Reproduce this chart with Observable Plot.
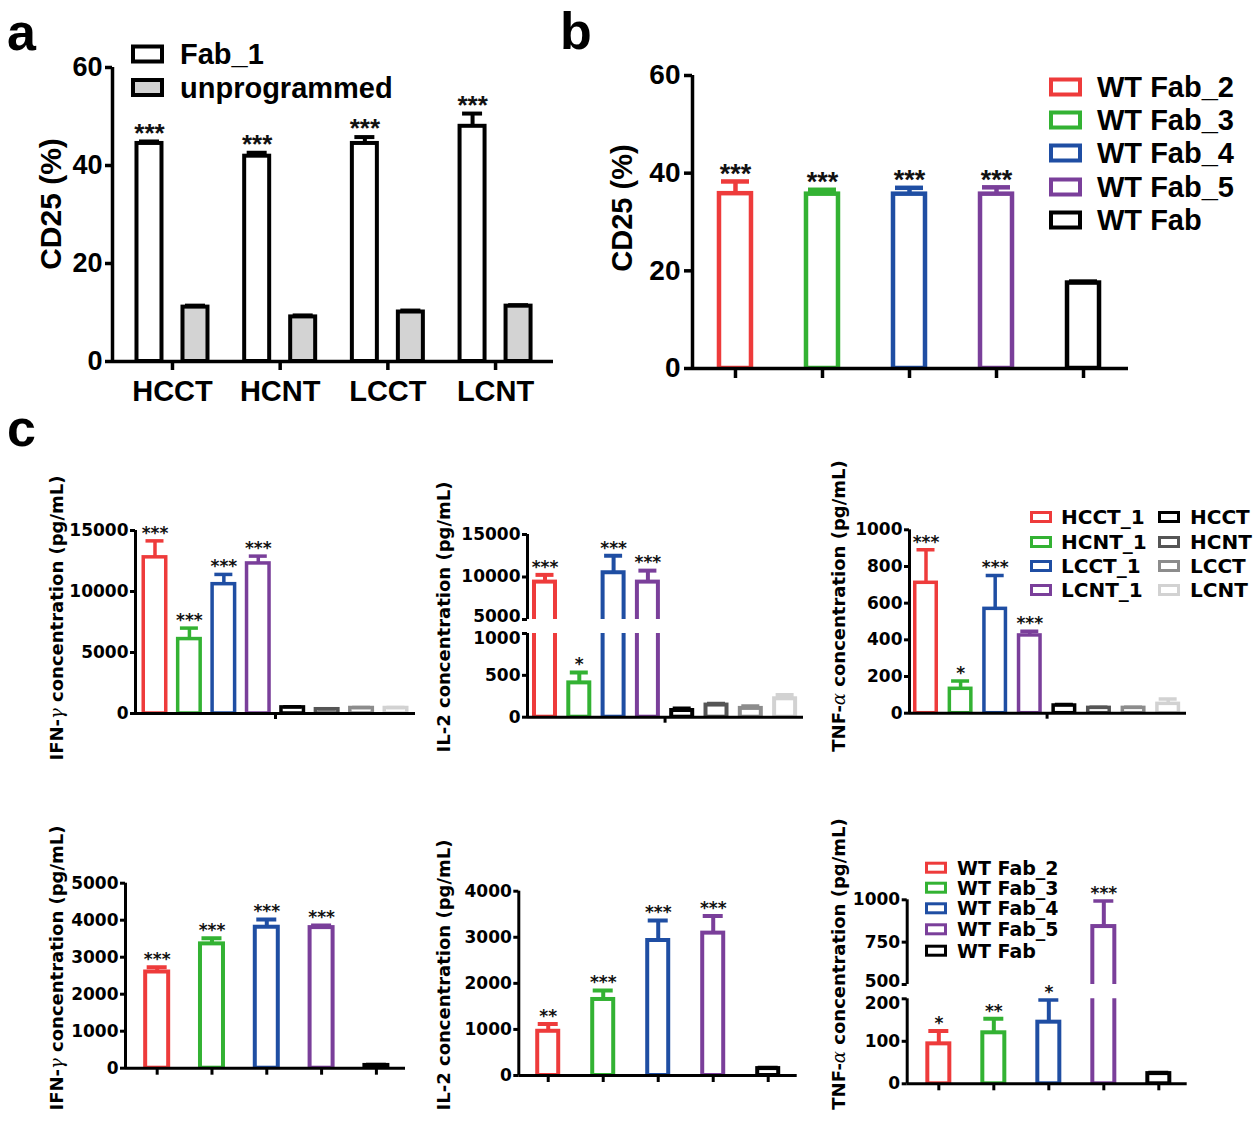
<!DOCTYPE html>
<html><head><meta charset="utf-8">
<script src="https://cdn.jsdelivr.net/npm/d3@7"></script>
<script src="https://cdn.jsdelivr.net/npm/@observablehq/plot@0.6"></script>
<style>
html,body{margin:0;padding:0;background:#fff;}
#root{position:relative;width:1260px;height:1125px;overflow:hidden;background:#fff;}
.panel{position:absolute;}
.panel svg{display:block;overflow:visible;}
#overlay{position:absolute;left:0;top:0;}
</style></head><body><div id="root"></div>
<script>
// ---------------- DATA ----------------
const aGroups = ["HCCT", "HCNT", "LCCT", "LCNT"];
const aSeries = ["Fab_1", "unprogrammed"];
const aFab1 = [44.5, 41.9, 44.5, 48.0];
const aFab1Err = [0.4, 0.7, 1.3, 2.6];
const aUnprog = [11.1, 9.1, 10.1, 11.3];
const aUnprogErr = [0.3, 0.3, 0.3, 0.2];
const aStars = ["***", "***", "***", "***"];
const aTicks = [0, 20, 40, 60];

const bLabels = ["WT Fab_2", "WT Fab_3", "WT Fab_4", "WT Fab_5", "WT Fab"];
const bValues = [35.8, 35.7, 35.7, 35.7, 17.5];
const bErr = [2.5, 0.9, 1.3, 1.4, 0.3];
const bStars = ["***", "***", "***", "***", ""];
const bTicks = [0, 20, 40, 60];

const cTopLabels = ["HCCT_1", "HCNT_1", "LCCT_1", "LCNT_1", "HCCT", "HCNT", "LCCT", "LCNT"];
const ifnTop = [12800, 6100, 10600, 12300, 500, 350, 450, 450];
const ifnTopErr = [1350, 900, 800, 600, 50, 30, 40, 40];
const ifnTopStars = ["***", "***", "***", "***", "", "", "", ""];
const ifnTopTicks = [0, 5000, 10000, 15000];
const il2Top = [9400, 410, 10500, 9400, 80, 145, 105, 220];
const il2TopErr = [850, 125, 2000, 1350, 25, 15, 25, 45];
const il2TopStars = ["***", "*", "***", "***", "", "", "", ""];
const il2TopTicksUpper = [5000, 10000, 15000];
const il2TopTicksLower = [0, 500, 1000];
const tnfTop = [711, 133, 569, 424, 42, 29, 29, 51];
const tnfTopErr = [180, 42, 182, 23, 5, 4, 4, 27];
const tnfTopStars = ["***", "*", "***", "***", "", "", "", ""];
const tnfTopTicks = [0, 200, 400, 600, 800, 1000];

const cBotLabels = ["WT Fab_2", "WT Fab_3", "WT Fab_4", "WT Fab_5", "WT Fab"];
const ifnBot = [2600, 3360, 3810, 3800, 75];
const ifnBotErr = [130, 150, 210, 55, 15];
const ifnBotStars = ["***", "***", "***", "***", ""];
const ifnBotTicks = [0, 1000, 2000, 3000, 4000, 5000];
const il2Bot = [960, 1650, 2930, 3090, 150];
const il2BotErr = [160, 195, 435, 370, 20];
const il2BotStars = ["**", "***", "***", "***", ""];
const il2BotTicks = [0, 1000, 2000, 3000, 4000];
const tnfBot = [94, 120, 145, 842, 24];
const tnfBotErr = [30, 33, 53, 153, 2];
const tnfBotStars = ["*", "**", "*", "***", ""];
const tnfBotTicksUpper = [500, 750, 1000];
const tnfBotTicksLower = [0, 100, 200];

const colTop = ["#ee3b3b", "#33b233", "#1f4ea3", "#7a3f9a", "#000000", "#555555", "#8c8c8c", "#d2d2d2"];
const colBot = ["#ee3b3b", "#33b233", "#1f4ea3", "#7a3f9a", "#000000"];
const aFills = ["#ffffff", "#d3d3d3"];

// ---------------- HELPERS ----------------
const fontAB = "'Liberation Sans', Arial, Helvetica, sans-serif";
const fontC = "'DejaVu Sans', Verdana, sans-serif";
const root = document.getElementById("root");

function mkBars(values, errs, stars, colors, fills) {
  return values.map((v, i) => ({pos: i, dxPx: 0, y: v, err: errs[i], star: stars[i], color: colors[i], fill: fills ? fills[i] : "#ffffff"}));
}

function barPanel(c) {
  const upp = (c.xDomain[1] - c.xDomain[0]) / (c.width - c.ml - c.mr);
  const hw = c.halfWpx * upp, ch = c.capHalfPx * upp;
  const [y0, y1] = c.yDomain;
  const data = c.bars.map(d => ({...d, x: d.pos + d.dxPx * upp}));
  const inFrame = data.filter(d => d.y >= y0 && d.y <= y1);
  const shifted = c.labelShift || {};
  const plainTicks = c.yTicks.filter(t => !(t in shifted));
  const marks = [
    Plot.rect(data, {x1: d => d.x - hw, x2: d => d.x + hw, y1: d => 0, y2: "y", fill: "fill", stroke: "color", strokeWidth: c.sw, clip: true}),
    Plot.ruleX(inFrame, {x: "x", y1: "y", y2: d => d.y + d.err, stroke: "color", strokeWidth: c.sw, clip: true}),
    Plot.ruleY(inFrame, {y: d => d.y + d.err, x1: d => d.x - ch, x2: d => d.x + ch, stroke: "color", strokeWidth: c.sw, clip: true}),
    Plot.text(inFrame.filter(d => d.star), {x: "x", y: d => d.y + d.err, text: "star", fontSize: c.starSize, fontWeight: "bold", fill: "#111", dy: -c.starGap + 0.26 * c.starSize}),
    Plot.ruleX([c.xDomain[0]], {y1: d => y0, y2: d => y1, strokeWidth: c.axisSw, stroke: "black"}),
    Plot.axisY({ticks: c.yTicks, tickFormat: d => (d in shifted) ? "" : String(d), tickSize: c.yTickSize, tickPadding: c.yTickPad, fontSize: c.fontSize, strokeWidth: c.axisSw, label: null})
  ];
  Object.keys(shifted).forEach(k => {
    marks.push(Plot.axisY({ticks: [+k], tickFormat: d => String(d), tickSize: 0, tickPadding: c.yTickPad + c.yTickSize, fontSize: c.fontSize, dy: shifted[k], label: null}));
  });
  if (c.xAxis) {
    marks.push(Plot.ruleY([y0], {x1: d => c.xDomain[0], x2: d => c.xDomain[1], strokeWidth: c.axisSw, stroke: "black"}));
    marks.push(Plot.axisX({ticks: c.xTicks, tickFormat: c.xTickFormat || (() => ""), tickSize: c.xTickSize, tickPadding: c.xTickPad || 3, fontSize: c.xFontSize || c.fontSize, strokeWidth: c.axisSw, label: null}));
  }
  const svg = Plot.plot({
    width: c.width, height: c.height,
    marginLeft: c.ml, marginRight: c.mr, marginTop: c.mt, marginBottom: c.mb,
    x: Object.assign({type: "linear", domain: c.xDomain}, c.xAxis ? {} : {axis: null}),
    y: {domain: c.yDomain},
    color: {type: "identity"},
    style: {fontFamily: c.font, fontWeight: "bold", color: "black", background: "transparent", overflow: "visible"},
    marks
  });
  const div = document.createElement("div");
  div.className = "panel";
  div.style.left = c.left + "px";
  div.style.top = c.top + "px";
  div.appendChild(svg);
  root.appendChild(div);
}

// ---------------- PANEL a ----------------
{
  const bars = [];
  aGroups.forEach((g, i) => {
    bars.push({pos: i, dxPx: -23, y: aFab1[i], err: aFab1Err[i], star: aStars[i], color: "#000", fill: aFills[0]});
    bars.push({pos: i, dxPx: 23, y: aUnprog[i], err: aUnprogErr[i], star: "", color: "#000", fill: aFills[1]});
  });
  barPanel({left: 0, top: 0, width: 560, height: 420, ml: 112, mr: 7, mt: 67, mb: 59,
    xDomain: [-0.557, 3.538], yDomain: [0, 60], yTicks: aTicks, bars,
    halfWpx: 12.5, capHalfPx: 10, sw: 4, axisSw: 3.5, font: fontAB, fontSize: 27,
    yTickSize: 7, yTickPad: 3, starSize: 26, starGap: 15,
    xAxis: true, xTicks: [0, 1, 2, 3], xTickFormat: i => aGroups[i], xTickSize: 9, xTickPad: 10, xFontSize: 29});
}
// ---------------- PANEL b ----------------
barPanel({left: 560, top: 0, width: 700, height: 420, ml: 132, mr: 132, mt: 75, mb: 52,
  xDomain: [-0.494, 4.517], yDomain: [0, 60], yTicks: bTicks,
  bars: mkBars(bValues, bErr, bStars, colBot),
  halfWpx: 16, capHalfPx: 14, sw: 4.5, axisSw: 3.5, font: fontAB, fontSize: 28,
  yTickSize: 8, yTickPad: 4, starSize: 27, starGap: 14,
  xAxis: true, xTicks: [0, 1, 2, 3, 4], xTickSize: 10});

// ---------------- PANEL c, top row ----------------
const cCommon = {sw: 3.5, axisSw: 3, font: fontC, fontSize: 17, yTickSize: 5, yTickPad: 2, starSize: 17, starGap: 12};
barPanel({...cCommon, left: 0, top: 440, width: 420, height: 330, ml: 135, mr: 5, mt: 90, mb: 57,
  xDomain: [-0.566, 7.566], yDomain: [0, 15000], yTicks: ifnTopTicks,
  bars: mkBars(ifnTop, ifnTopErr, ifnTopStars, colTop),
  halfWpx: 11.25, capHalfPx: 9, xAxis: true, xTicks: [3.5], xTickSize: 6});
// IL-2 broken axis: upper part and lower part
barPanel({...cCommon, sw: 4, left: 420, top: 440, width: 400, height: 179, ml: 107, mr: 17, mt: 94, mb: 0,
  xDomain: [-0.51, 7.536], yDomain: [5000, 15000], yTicks: il2TopTicksUpper, labelShift: {5000: -3},
  bars: mkBars(il2Top, il2TopErr, il2TopStars, colTop),
  halfWpx: 10.5, capHalfPx: 9, xAxis: false});
barPanel({...cCommon, sw: 4, left: 420, top: 625, width: 400, height: 145, ml: 107, mr: 17, mt: 8, mb: 53.3,
  xDomain: [-0.51, 7.536], yDomain: [0, 1000], yTicks: il2TopTicksLower, labelShift: {1000: 5},
  bars: mkBars(il2Top, il2TopErr, il2TopStars, colTop),
  halfWpx: 10.5, capHalfPx: 9, xAxis: true, xTicks: [3.5], xTickSize: 6});
barPanel({...cCommon, left: 810, top: 440, width: 450, height: 330, ml: 99, mr: 74, mt: 89.3, mb: 57.3,
  xDomain: [-0.477, 7.53], yDomain: [0, 1000], yTicks: tnfTopTicks,
  bars: mkBars(tnfTop, tnfTopErr, tnfTopStars, colTop),
  halfWpx: 10.75, capHalfPx: 9, xAxis: true, xTicks: [3.5], xTickSize: 6});

// ---------------- PANEL c, bottom row ----------------
barPanel({...cCommon, sw: 4, left: 0, top: 800, width: 420, height: 325, ml: 125, mr: 15, mt: 82.7, mb: 57.3,
  xDomain: [-0.578, 4.531], yDomain: [0, 5000], yTicks: ifnBotTicks,
  bars: mkBars(ifnBot, ifnBotErr, ifnBotStars, colBot),
  halfWpx: 11.5, capHalfPx: 10, xAxis: true, xTicks: [0, 1, 2, 3, 4], xTickSize: 7});
barPanel({...cCommon, sw: 4, left: 420, top: 800, width: 400, height: 325, ml: 98.3, mr: 23.3, mt: 90.7, mb: 50,
  xDomain: [-0.535, 4.527], yDomain: [0, 4000], yTicks: il2BotTicks,
  bars: mkBars(il2Bot, il2BotErr, il2BotStars, colBot),
  halfWpx: 10.5, capHalfPx: 10, xAxis: true, xTicks: [0, 1, 2, 3, 4], xTickSize: 7});
barPanel({...cCommon, sw: 4, left: 810, top: 800, width: 450, height: 184, ml: 96.7, mr: 73.3, mt: 99.3, mb: 0,
  xDomain: [-0.575, 4.516], yDomain: [500, 1000], yTicks: tnfBotTicksUpper, labelShift: {500: -3},
  bars: mkBars(tnfBot, tnfBotErr, tnfBotStars, colBot),
  halfWpx: 11, capHalfPx: 10, xAxis: false});
barPanel({...cCommon, sw: 4, left: 810, top: 990, width: 450, height: 135, ml: 96.7, mr: 73.3, mt: 8.3, mb: 41.7,
  xDomain: [-0.575, 4.516], yDomain: [0, 200], yTicks: tnfBotTicksLower, labelShift: {200: 5},
  bars: mkBars(tnfBot, tnfBotErr, tnfBotStars, colBot),
  halfWpx: 11, capHalfPx: 10, xAxis: true, xTicks: [0, 1, 2, 3, 4], xTickSize: 7});

// ---------------- OVERLAY: letters, axis titles, legends ----------------
const ov = d3.create("svg").attr("id", "overlay").attr("width", 1260).attr("height", 1125)
  .style("position", "absolute").style("left", "0px").style("top", "0px");

function letter(t, x, y) {
  ov.append("text").attr("x", x).attr("y", y).attr("font-family", fontAB).attr("font-weight", "bold")
    .attr("font-size", 52).text(t);
}
letter("a", 7, 50); letter("b", 560, 49); letter("c", 7, 446);

function ytitle(parts, cx, cy, font, size) {
  const t = ov.append("text").attr("transform", `translate(${cx},${cy}) rotate(-90)`)
    .attr("text-anchor", "middle").attr("dominant-baseline", "central")
    .attr("font-family", font).attr("font-weight", "bold").attr("font-size", size);
  parts.forEach(p => {
    const s = t.append("tspan").text(p.t);
    if (p.greek) s.attr("font-family", "'DejaVu Serif', serif").attr("font-style", "italic").attr("font-weight", "normal");
  });
}
ytitle([{t: "CD25 (%)"}], 50, 204, fontAB, 30);
ytitle([{t: "CD25 (%)"}], 622, 208, fontAB, 29);
ytitle([{t: "IFN-"}, {t: "γ", greek: true}, {t: " concentration (pg/mL)"}], 56, 618, fontC, 18);
ytitle([{t: "IL-2 concentration (pg/mL)"}], 443, 617, fontC, 18);
ytitle([{t: "TNF-"}, {t: "α", greek: true}, {t: " concentration (pg/mL)"}], 838, 606, fontC, 18);
ytitle([{t: "IFN-"}, {t: "γ", greek: true}, {t: " concentration (pg/mL)"}], 56, 968, fontC, 18);
ytitle([{t: "IL-2 concentration (pg/mL)"}], 443, 975, fontC, 18);
ytitle([{t: "TNF-"}, {t: "α", greek: true}, {t: " concentration (pg/mL)"}], 838, 964, fontC, 18);

function legend(labels, strokes, fills, x, textX, ys, bw, bh, sw, font, size) {
  labels.forEach((lab, i) => {
    ov.append("rect").attr("x", x + sw / 2).attr("y", ys[i] - bh / 2 + sw / 2)
      .attr("width", bw - sw).attr("height", bh - sw)
      .attr("fill", fills[i]).attr("stroke", strokes[i]).attr("stroke-width", sw);
    ov.append("text").attr("x", textX).attr("y", ys[i]).attr("dominant-baseline", "central")
      .attr("font-family", font).attr("font-weight", "bold").attr("font-size", size).text(lab);
  });
}
legend(aSeries, ["#000", "#000"], aFills, 131, 180, [54, 87.5], 33, 19, 4, fontAB, 29);
legend(bLabels, colBot, bLabels.map(() => "#fff"), 1049, 1097, [87, 120, 153, 187, 220], 33, 19, 4, fontAB, 29);
legend(cTopLabels.slice(0, 4), colTop.slice(0, 4), ["#fff", "#fff", "#fff", "#fff"], 1030, 1061, [517, 542, 566, 590], 22, 12, 3, fontC, 20);
legend(cTopLabels.slice(4), colTop.slice(4), ["#fff", "#fff", "#fff", "#fff"], 1158, 1190, [517, 542, 566, 590], 22, 12, 3, fontC, 20);
legend(cBotLabels, colBot, cBotLabels.map(() => "#fff"), 925, 957, [867.7, 887.7, 908.3, 929.3, 950.7], 22, 12, 3, fontC, 19);

root.appendChild(ov.node());
</script></body></html>
